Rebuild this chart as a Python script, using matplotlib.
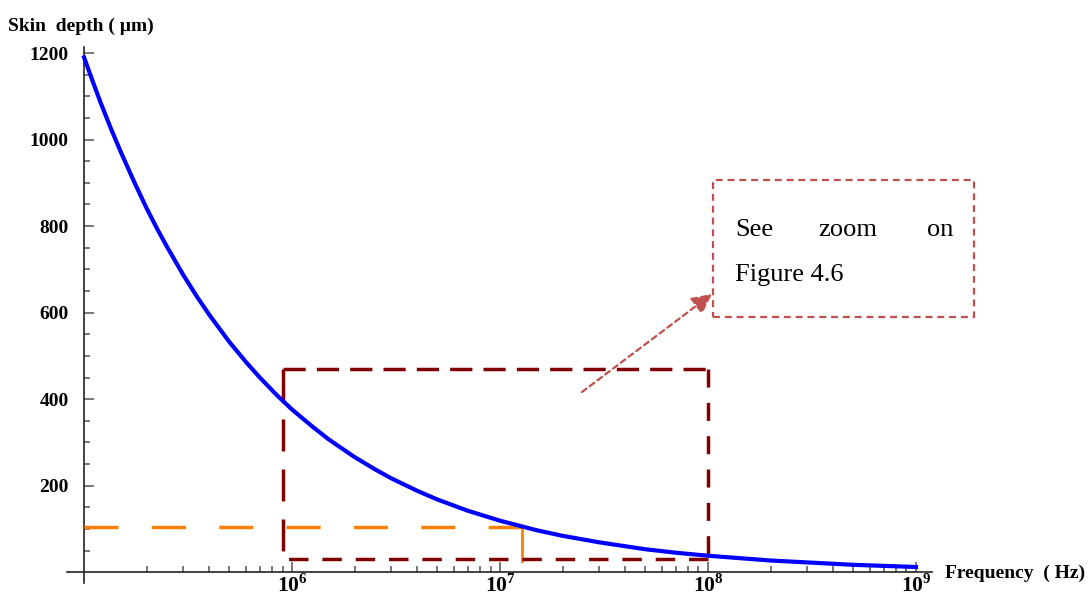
import numpy as np
import matplotlib.pyplot as plt
from matplotlib.ticker import FixedLocator, FixedFormatter, NullFormatter
from matplotlib.patches import Rectangle

plt.rcParams['font.family'] = ['Liberation Serif', 'DejaVu Serif']
plt.rcParams['mathtext.fontset'] = 'custom'
plt.rcParams['mathtext.rm'] = 'Liberation Serif:bold'
plt.rcParams['lines.scale_dashes'] = False

# skin depth (um) against frequency (Hz)
freq = [1e5, 1.1e5, 1.2e5, 1.35e5, 1.5e5, 1.75e5, 2e5, 2.25e5, 2.5e5, 3e5,
        3.5e5, 4e5, 5e5, 6e5, 7e5, 8.5e5, 1e6, 1.25e6, 1.5e6, 2e6, 2.5e6,
        3e6, 4e6, 5e6, 7e6, 1e7, 1.5e7, 2e7, 3e7, 5e7, 7e7, 1e8, 2e8, 5e8, 1e9]
depth = [1190, 1135, 1086, 1024, 972, 900, 841, 793, 753, 687,
         636, 595, 532, 486, 450, 408, 376, 337, 307, 266, 238,
         217, 188, 168, 142, 119, 97, 84, 69, 53, 45, 38, 27, 17, 12]

# marked operating point
mark_freq = 1.28e7
mark_depth = 105
mark_floor = 25

# region shown in the zoomed figure
zoom_freq = [9e5, 1e8]
zoom_depth = [30, 470]

freq_ticks = [1e6, 1e7, 1e8, 1e9]
freq_labels = ['$10^{6}$', '$10^{7}$', '$10^{8}$', '$10^{9}$']
depth_ticks = [200, 400, 600, 800, 1000, 1200]

fig = plt.figure(figsize=(10.92, 5.99), dpi=100)
ax = fig.add_axes([67 / 1092, 1 - 583 / 599, 865 / 1092, 536 / 599])

ax.plot(freq, depth, color='#0000ff', lw=3, zorder=5)

orange = '#ff8000'
maroon = '#800000'
ax.plot([freq[0], mark_freq], [mark_depth, mark_depth], color=orange, lw=2.5,
        dashes=(24.5, 24), zorder=3)
ax.plot([mark_freq, mark_freq], [mark_depth, mark_floor], color=orange, lw=2, zorder=3)

f0, f1 = zoom_freq
d0, d1 = zoom_depth
ax.plot([f0, f0], [d1, d0 - 8], color=maroon, lw=2.5, dashes=(23, 13), zorder=4)
ax.plot([f0, f1], [d1, d1], color=maroon, lw=2.5, dashes=(16, 8), zorder=4)
ax.plot([f1, f1], [d1, d0], color=maroon, lw=2.5, dashes=(13, 11), zorder=4)
ax.plot([f1, f0], [d0, d0], color=maroon, lw=2.5, dashes=(14, 10), zorder=4)

ax.set_xscale('log')
ax.set_xlim(10 ** 4.918, 10 ** 9.077)
ax.set_ylim(-25, 1214)

for s in ['top', 'right']:
    ax.spines[s].set_visible(False)
ax.spines['left'].set_position(('data', freq[0]))
ax.spines['bottom'].set_position(('data', 0))
for s in ['left', 'bottom']:
    ax.spines[s].set_color('#222222')
    ax.spines[s].set_linewidth(1.2)

ax.xaxis.set_major_locator(FixedLocator(freq_ticks))
ax.xaxis.set_major_formatter(FixedFormatter(freq_labels))
minor_f = [m * 10 ** e for e in range(5, 9) for m in range(2, 10)]
ax.xaxis.set_minor_locator(FixedLocator(minor_f))
ax.xaxis.set_minor_formatter(NullFormatter())

ax.yaxis.set_major_locator(FixedLocator(depth_ticks))
ax.yaxis.set_minor_locator(FixedLocator(np.arange(50, 1201, 50)))

ax.tick_params(which='both', direction='in', color='#555555', width=1.1)
ax.tick_params(which='major', length=7)
ax.tick_params(which='minor', length=4)
ax.tick_params(axis='y', which='major', labelsize=14, pad=11)
ax.tick_params(axis='x', which='major', labelsize=15.5, pad=1.5)
for lab in ax.get_yticklabels():
    lab.set_fontweight('bold')

fig.text(8 / 1092, 1 - 31 / 599, 'Skin  depth ( µm)', fontsize=14,
         fontweight='bold', ha='left', va='baseline')
fig.text(945 / 1092, 1 - 578 / 599, 'Frequency  ( Hz)', fontsize=14,
         fontweight='bold', ha='left', va='baseline')

# callout pointing at the zoomed region
red = '#c0504d'
fig.add_artist(Rectangle((713 / 1092, 1 - 317 / 599), 261 / 1092, 137 / 599,
                         transform=fig.transFigure, fill=False, edgecolor=red,
                         lw=1.6, ls=(0, (5, 3.5))))
fig.text(735 / 1092, 1 - 236 / 599, 'See', fontsize=19, ha='left', va='baseline')
fig.text(848 / 1092, 1 - 236 / 599, 'zoom', fontsize=19, ha='center', va='baseline')
fig.text(953 / 1092, 1 - 236 / 599, 'on', fontsize=19, ha='right', va='baseline')
fig.text(735 / 1092, 1 - 281 / 599, 'Figure 4.6', fontsize=19, ha='left', va='baseline')

ax.annotate('', xy=(712 / 1092, 1 - 294 / 599), xytext=(582 / 1092, 1 - 392 / 599),
            xycoords='figure fraction', textcoords='figure fraction',
            arrowprops=dict(arrowstyle='-|>', color=red, lw=1.6, ls=(0, (4, 3)),
                            mutation_scale=30, shrinkA=0, shrinkB=0))

fig.savefig('out.png', dpi=100)
